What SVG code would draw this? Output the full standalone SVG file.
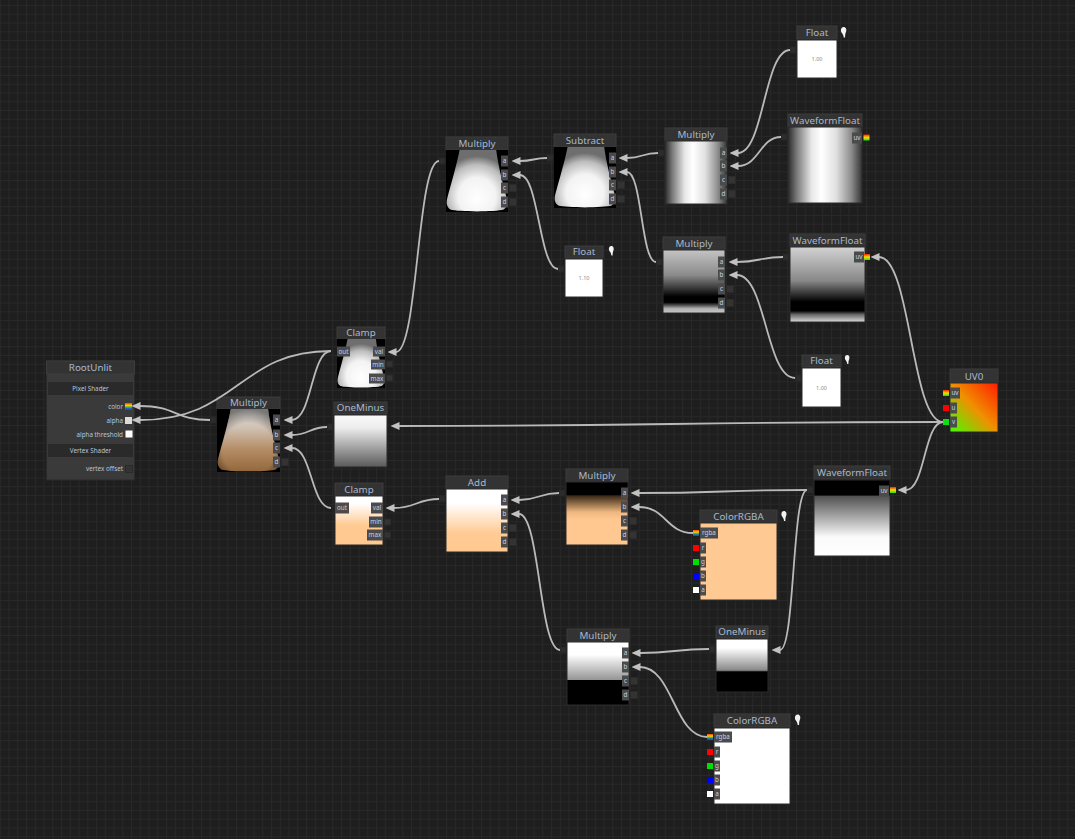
<svg xmlns="http://www.w3.org/2000/svg" xmlns:xlink="http://www.w3.org/1999/xlink" width="1075" height="839" viewBox="0 0 1075 839">
<defs>
<style>
.hdr{fill:#333333;stroke:#3d3d3d;stroke-width:1}
.ttl{font-family:"Noto Sans","Liberation Sans",sans-serif;font-size:9.8px;fill:#a9b8cd;text-anchor:middle}
.pl{fill:#4b4b4b}
.pt{font-family:"Noto Sans","Liberation Sans",sans-serif;font-size:6.3px;fill:#c4d0e4;text-anchor:middle}
.ps{fill:#333333;stroke:#2a2a2a;stroke-width:1}
.op{fill:#2c2c2c;stroke:#262626;stroke-width:1}
.val{font-family:"Noto Sans","Liberation Sans",sans-serif;font-size:5.5px;fill:#8a8a8a;text-anchor:middle}
.rl{font-family:"Noto Sans","Liberation Sans",sans-serif;font-size:6.3px;fill:#b8c4da;text-anchor:end}
.bt{font-family:"Noto Sans","Liberation Sans",sans-serif;font-size:6.3px;fill:#b8c4da;text-anchor:middle}
.band{fill:#2a2a2a}
.pin{fill:#f2f2f2}
#connectors path{fill:none;stroke:#b9b9b9;stroke-width:1.8;marker-end:url(#arr)}
</style>
<pattern id="grid" width="8.75" height="8.75" patternUnits="userSpaceOnUse" x="8.5" y="5">
<rect width="8.75" height="8.75" fill="#1e1e1e"/>
<path d="M0,0.5 H8.75 M0.5,0 V8.75" stroke="#282828" stroke-width="1"/>
</pattern>
<marker id="arr" viewBox="0 0 9 8" refX="0.5" refY="4" markerWidth="9" markerHeight="8" markerUnits="userSpaceOnUse" orient="auto">
<path d="M0,0 L9,4 L0,8 Z" fill="#c2c2c2"/>
</marker>
<path id="vase" d="M22,0 L81,0 C84,25 92,55 98,78 C100,86 99,92 93,96 C80,100 20,100 7,96 C1,92 0,86 2,78 C8,55 17,25 22,0 Z"/>
<path id="pinshape" d="M3,0 C5.6,0 6.2,2.6 5.6,4.6 C5,6.2 4.6,7.4 4.6,10.5 L3.2,10.5 C3,8.4 2.2,7 1.2,5.8 C-0.2,4 0.4,0 3,0 Z"/>
<radialGradient id="gVase" cx="0.5" cy="0.72" r="0.62" fx="0.5" fy="0.8">
<stop offset="0" stop-color="#ffffff"/><stop offset="0.5" stop-color="#f3f3f3"/><stop offset="0.8" stop-color="#bcbcbc"/><stop offset="1" stop-color="#6e6e6e"/>
</radialGradient>
<linearGradient id="gTan" x1="0" y1="0" x2="0" y2="1">
<stop offset="0" stop-color="#dcdcdc"/><stop offset="0.3" stop-color="#d0c2b4"/><stop offset="0.65" stop-color="#b48c64"/><stop offset="1" stop-color="#93683d"/>
</linearGradient>
<radialGradient id="gEdge" cx="0.5" cy="0.65" r="0.65">
<stop offset="0" stop-color="#000" stop-opacity="0"/><stop offset="0.65" stop-color="#000" stop-opacity="0"/><stop offset="1" stop-color="#000" stop-opacity="0.45"/>
</radialGradient>
<linearGradient id="gOneT" x1="0" y1="0" x2="0" y2="1">
<stop offset="0" stop-color="#fafafa"/><stop offset="0.25" stop-color="#ececec"/><stop offset="1" stop-color="#5a5a5a"/>
</linearGradient>
<linearGradient id="gHoriz" x1="0" y1="0" x2="1" y2="0">
<stop offset="0" stop-color="#2a2a2a"/><stop offset="0.12" stop-color="#7a7a7a"/><stop offset="0.32" stop-color="#e8e8e8"/><stop offset="0.45" stop-color="#ffffff"/><stop offset="0.65" stop-color="#e0e0e0"/><stop offset="0.86" stop-color="#8a8a8a"/><stop offset="1" stop-color="#333333"/>
</linearGradient>
<linearGradient id="gMulM" x1="0" y1="0" x2="0" y2="1">
<stop offset="0" stop-color="#c4c4c4"/><stop offset="0.4" stop-color="#8a8a8a"/><stop offset="0.64" stop-color="#2a2a2a"/><stop offset="0.74" stop-color="#000"/><stop offset="0.83" stop-color="#000"/><stop offset="0.88" stop-color="#555"/><stop offset="0.93" stop-color="#b0b0b0"/><stop offset="1" stop-color="#c8c8c8"/>
</linearGradient>
<linearGradient id="gWfM" x1="0" y1="0" x2="0" y2="1">
<stop offset="0" stop-color="#d2d2d2"/><stop offset="0.45" stop-color="#888"/><stop offset="0.66" stop-color="#222"/><stop offset="0.73" stop-color="#000"/><stop offset="0.85" stop-color="#000"/><stop offset="0.9" stop-color="#666"/><stop offset="1" stop-color="#dcdcdc"/>
</linearGradient>
<linearGradient id="gUV" x1="1" y1="0" x2="0" y2="1">
<stop offset="0" stop-color="#ff1c00"/><stop offset="0.5" stop-color="#f09000"/><stop offset="1" stop-color="#40ff00"/>
</linearGradient>
<linearGradient id="gAdd" x1="0" y1="0" x2="0" y2="1">
<stop offset="0" stop-color="#fff"/><stop offset="0.22" stop-color="#fff"/><stop offset="0.7" stop-color="#ffcb94"/><stop offset="1" stop-color="#ffc891"/>
</linearGradient>
<linearGradient id="gClampB" x1="0" y1="0" x2="0" y2="1">
<stop offset="0" stop-color="#fff"/><stop offset="0.15" stop-color="#fff"/><stop offset="0.6" stop-color="#ffca92"/><stop offset="1" stop-color="#ffc891"/>
</linearGradient>
<linearGradient id="gMulB" x1="0" y1="0" x2="0" y2="1">
<stop offset="0" stop-color="#000"/><stop offset="0.2" stop-color="#000"/><stop offset="0.22" stop-color="#3a2a18"/><stop offset="0.48" stop-color="#f0b880"/><stop offset="0.6" stop-color="#ffc891"/><stop offset="1" stop-color="#ffc891"/>
</linearGradient>
<linearGradient id="gWfB" x1="0" y1="0" x2="0" y2="1">
<stop offset="0" stop-color="#000"/><stop offset="0.2" stop-color="#000"/><stop offset="0.21" stop-color="#505050"/><stop offset="0.75" stop-color="#fafafa"/><stop offset="1" stop-color="#fff"/>
</linearGradient>
<linearGradient id="gMulBB" x1="0" y1="0" x2="0" y2="1">
<stop offset="0" stop-color="#fff"/><stop offset="0.2" stop-color="#fff"/><stop offset="0.6" stop-color="#959595"/><stop offset="0.61" stop-color="#000"/><stop offset="1" stop-color="#000"/>
</linearGradient>
<linearGradient id="gOneB" x1="0" y1="0" x2="0" y2="1">
<stop offset="0" stop-color="#fff"/><stop offset="0.17" stop-color="#fff"/><stop offset="0.59" stop-color="#888"/><stop offset="0.62" stop-color="#000"/><stop offset="1" stop-color="#000"/>
</linearGradient>
<linearGradient id="gRgba" x1="0" y1="0" x2="0" y2="1">
<stop offset="0" stop-color="#ff4000"/><stop offset="0.35" stop-color="#ffd000"/><stop offset="0.6" stop-color="#30c030"/><stop offset="0.85" stop-color="#2040ff"/><stop offset="1" stop-color="#8020c0"/>
</linearGradient>
<linearGradient id="gUvSw" x1="0" y1="0" x2="0" y2="1">
<stop offset="0" stop-color="#ff2000"/><stop offset="0.5" stop-color="#ffdd00"/><stop offset="1" stop-color="#20e020"/>
</linearGradient>
</defs>

<rect width="1075" height="839" fill="url(#grid)"/>

<g id="root-unlit">
<rect x="46.5" y="361" width="88" height="119" fill="#3a3a3a" stroke="#2a2a2a"/>
<rect class="hdr" x="46.5" y="361" width="88" height="13"/>
<text class="ttl" x="90.5" y="371">RootUnlit</text>
<rect class="band" x="48" y="382" width="85" height="13"/>
<text class="bt" x="90.5" y="391">Pixel Shader</text>
<text class="rl" x="123" y="409">color</text>
<text class="rl" x="123" y="423">alpha</text>
<text class="rl" x="123" y="436.5">alpha threshold</text>
<rect class="band" x="48" y="444" width="85" height="13"/>
<text class="bt" x="90.5" y="453">Vertex Shader</text>
<text class="rl" x="123" y="471">vertex offset</text>
<rect x="125" y="403" width="7" height="7" fill="url(#gRgba)"/>
<rect x="125" y="417" width="7" height="7" fill="#dcdcdc"/>
<rect x="125.5" y="430.5" width="7" height="7" fill="#ffffff"/>
<rect class="ps" x="125.5" y="465.5" width="7" height="7"/>
</g>

<g id="multiply-left">
<rect class="hdr" x="217" y="397" width="63" height="12"/>
<text class="ttl" x="248.5" y="406">Multiply</text>
<rect x="217" y="409" width="63" height="63" fill="#000"/>
<use xlink:href="#vase" href="#vase" transform="translate(217,409) scale(0.63,0.63)" fill="url(#gTan)"/>
<use xlink:href="#vase" href="#vase" transform="translate(217,409) scale(0.63,0.63)" fill="url(#gEdge)"/>
<rect class="pl" x="273" y="414.5" width="7" height="11"/><text class="pt" x="276.5" y="422.3">a</text>
<rect class="pl" x="273" y="429.5" width="7" height="11"/><text class="pt" x="276.5" y="437.3">b</text>
<rect class="pl" x="273" y="442.5" width="7" height="11"/><text class="pt" x="276.5" y="450.3">c</text>
<rect class="pl" x="273" y="456.5" width="7" height="11"/><text class="pt" x="276.5" y="464.3">d</text>
<rect class="ps" x="281.5" y="458.5" width="7" height="7"/>
<rect class="op" x="210" y="417" width="6" height="6"/>
</g>

<g id="clamp-top">
<rect class="hdr" x="337" y="327" width="48" height="12"/>
<text class="ttl" x="361" y="336">Clamp</text>
<rect x="337" y="339" width="48" height="49" fill="#000"/>
<use xlink:href="#vase" href="#vase" transform="translate(337,339) scale(0.48,0.49)" fill="url(#gVase)"/>
<rect class="pl" x="337" y="346.5" width="13" height="10"/><text class="pt" x="343.5" y="353.5">out</text>
<rect class="pl" x="373" y="346.5" width="12" height="10"/><text class="pt" x="379" y="353.5">val</text>
<rect class="pl" x="371" y="359.5" width="14" height="10"/><text class="pt" x="378" y="366.5">min</text>
<rect class="pl" x="369" y="373.5" width="16" height="10"/><text class="pt" x="377" y="380.5">max</text>
<rect class="ps" x="386.5" y="361" width="6" height="6"/>
<rect class="ps" x="386.5" y="375" width="6" height="6"/>
</g>

<g id="oneminus-top">
<rect class="hdr" x="334" y="402" width="53" height="12"/>
<text class="ttl" x="360.5" y="411">OneMinus</text>
<rect x="334" y="415" width="53" height="52" fill="url(#gOneT)" stroke="#2a2a2a"/>
<rect class="op" x="327" y="424" width="6" height="6"/>
</g>

<g id="multiply-top">
<rect class="hdr" x="446" y="137" width="62" height="13"/>
<text class="ttl" x="477" y="146.5">Multiply</text>
<rect x="446" y="150" width="62" height="62" fill="#000"/>
<use xlink:href="#vase" href="#vase" transform="translate(446,150) scale(0.62,0.62)" fill="url(#gVase)"/>
<rect class="pl" x="501" y="155.5" width="7" height="11"/><text class="pt" x="504.5" y="163.3">a</text>
<rect class="pl" x="501" y="169.5" width="7" height="11"/><text class="pt" x="504.5" y="177.3">b</text>
<rect class="pl" x="501" y="182.5" width="7" height="11"/><text class="pt" x="504.5" y="190.3">c</text>
<rect class="pl" x="501" y="196.5" width="7" height="11"/><text class="pt" x="504.5" y="204.3">d</text>
<rect class="ps" x="509.5" y="184.5" width="7" height="7"/>
<rect class="ps" x="509.5" y="198.5" width="7" height="7"/>
<rect class="op" x="439" y="158" width="6" height="6"/>
</g>

<g id="subtract">
<rect class="hdr" x="554" y="134" width="62" height="13"/>
<text class="ttl" x="585" y="143.5">Subtract</text>
<rect x="554" y="147" width="62" height="61" fill="#000"/>
<use xlink:href="#vase" href="#vase" transform="translate(554,147) scale(0.62,0.61)" fill="url(#gVase)"/>
<rect class="pl" x="609" y="152.5" width="7" height="11"/><text class="pt" x="612.5" y="160.3">a</text>
<rect class="pl" x="609" y="166.5" width="7" height="11"/><text class="pt" x="612.5" y="174.3">b</text>
<rect class="pl" x="609" y="179.5" width="7" height="11"/><text class="pt" x="612.5" y="187.3">c</text>
<rect class="pl" x="609" y="193.5" width="7" height="11"/><text class="pt" x="612.5" y="201.3">d</text>
<rect class="ps" x="617.5" y="181.5" width="7" height="7"/>
<rect class="ps" x="617.5" y="195.5" width="7" height="7"/>
<rect class="op" x="547" y="155" width="6" height="6"/>
</g>

<g id="float-mid">
<rect class="hdr" x="565" y="246" width="38" height="12"/>
<text class="ttl" x="584" y="255">Float</text>
<rect x="565" y="259" width="38" height="38" fill="#fff" stroke="#2a2a2a"/>
<text class="val" x="584" y="280">1.10</text>
<rect class="op" x="558" y="266" width="6" height="6"/>
<use xlink:href="#pinshape" href="#pinshape" class="pin" transform="translate(608.5,246) scale(0.9)"/>
</g>

<g id="multiply-topright">
<rect class="hdr" x="665" y="128" width="62" height="13"/>
<text class="ttl" x="696" y="137.5">Multiply</text>
<rect x="665" y="141" width="62" height="63" fill="url(#gHoriz)" stroke="#2a2a2a"/>
<rect class="pl" x="720" y="147.5" width="7" height="11"/><text class="pt" x="723.5" y="155.3">a</text>
<rect class="pl" x="720" y="160.5" width="7" height="11"/><text class="pt" x="723.5" y="168.3">b</text>
<rect class="pl" x="720" y="174.5" width="7" height="11"/><text class="pt" x="723.5" y="182.3">c</text>
<rect class="pl" x="720" y="188.5" width="7" height="11"/><text class="pt" x="723.5" y="196.3">d</text>
<rect class="ps" x="728.5" y="176.5" width="7" height="7"/>
<rect class="ps" x="728.5" y="190.5" width="7" height="7"/>
<rect class="op" x="658" y="150" width="6" height="6"/>
</g>

<g id="float-top">
<rect class="hdr" x="797" y="26" width="40" height="13"/>
<text class="ttl" x="817" y="35.5">Float</text>
<rect x="797" y="40" width="40" height="38" fill="#fff" stroke="#2a2a2a"/>
<text class="val" x="817" y="61">1.00</text>
<rect class="op" x="790" y="47" width="6" height="6"/>
<use xlink:href="#pinshape" href="#pinshape" class="pin" transform="translate(840.5,27)"/>
</g>

<g id="waveform-top">
<rect class="hdr" x="788" y="114" width="74" height="13"/>
<text class="ttl" x="825" y="123.5">WaveformFloat</text>
<rect x="788" y="127" width="74" height="76" fill="url(#gHoriz)" stroke="#2a2a2a"/>
<rect class="pl" x="852" y="132.5" width="10" height="11"/><text class="pt" x="857" y="140.3">uv</text>
<rect x="863.5" y="134.5" width="6" height="6" fill="url(#gUvSw)"/>
<rect class="op" x="781" y="134" width="6" height="6"/>
</g>

<g id="multiply-mid">
<rect class="hdr" x="663" y="237" width="62" height="13"/>
<text class="ttl" x="694" y="246.5">Multiply</text>
<rect x="663" y="250" width="62" height="63" fill="url(#gMulM)" stroke="#2a2a2a"/>
<rect class="pl" x="718" y="256.5" width="7" height="11"/><text class="pt" x="721.5" y="264.3">a</text>
<rect class="pl" x="718" y="269.5" width="7" height="11"/><text class="pt" x="721.5" y="277.3">b</text>
<rect class="pl" x="718" y="283.5" width="7" height="11"/><text class="pt" x="721.5" y="291.3">c</text>
<rect class="pl" x="718" y="297.5" width="7" height="11"/><text class="pt" x="721.5" y="305.3">d</text>
<rect class="ps" x="726.5" y="285.5" width="7" height="7"/>
<rect class="ps" x="726.5" y="299.5" width="7" height="7"/>
<rect class="op" x="656" y="259" width="6" height="6"/>
</g>

<g id="waveform-mid">
<rect class="hdr" x="790" y="234" width="75" height="13"/>
<text class="ttl" x="827.5" y="243.5">WaveformFloat</text>
<rect x="790" y="247" width="75" height="75" fill="url(#gWfM)" stroke="#2a2a2a"/>
<rect class="pl" x="854" y="251.5" width="10" height="11"/><text class="pt" x="859" y="259.3">uv</text>
<rect x="864" y="254" width="6" height="6" fill="url(#gUvSw)"/>
<rect class="op" x="783" y="254" width="6" height="6"/>
</g>

<g id="float-low">
<rect class="hdr" x="802" y="355" width="39" height="12"/>
<text class="ttl" x="821.5" y="364">Float</text>
<rect x="802" y="368" width="39" height="39" fill="#fff" stroke="#2a2a2a"/>
<text class="val" x="821.5" y="390">1.00</text>
<rect class="op" x="795" y="375" width="6" height="6"/>
<use xlink:href="#pinshape" href="#pinshape" class="pin" transform="translate(844.5,355) scale(0.85)"/>
</g>

<g id="uv0">
<rect class="hdr" x="950" y="369" width="48" height="14"/>
<text class="ttl" x="974" y="379.5">UV0</text>
<rect x="950" y="383" width="48" height="49" fill="url(#gUV)" stroke="#2a2a2a"/>
<rect class="pl" x="950" y="387.5" width="10" height="11"/><text class="pt" x="955" y="395.3">uv</text>
<rect class="pl" x="950" y="402.5" width="7" height="11"/><text class="pt" x="953.5" y="410.3">u</text>
<rect class="pl" x="950" y="416.5" width="7" height="11"/><text class="pt" x="953.5" y="424.3">v</text>
<rect x="943" y="390" width="6" height="6" fill="url(#gUvSw)"/>
<rect x="943" y="405" width="6" height="6" fill="#ff0000"/>
<rect x="943" y="419" width="6" height="6" fill="#10e010"/>
</g>

<g id="clamp-bottom">
<rect class="hdr" x="335" y="483" width="48" height="13"/>
<text class="ttl" x="359" y="492.5">Clamp</text>
<rect x="335" y="496" width="48" height="49" fill="url(#gClampB)" stroke="#2a2a2a"/>
<rect class="pl" x="335" y="502.5" width="14" height="11"/><text class="pt" x="342" y="510.3">out</text>
<rect class="pl" x="371" y="502.5" width="12" height="11"/><text class="pt" x="377" y="510.3">val</text>
<rect class="pl" x="369" y="516.5" width="14" height="11"/><text class="pt" x="376" y="524.3">min</text>
<rect class="pl" x="367" y="529.5" width="16" height="11"/><text class="pt" x="375" y="537.3">max</text>
<rect class="ps" x="384.5" y="519" width="6" height="6"/>
<rect class="ps" x="384.5" y="532" width="6" height="6"/>
</g>

<g id="add">
<rect class="hdr" x="446" y="476" width="62" height="13"/>
<text class="ttl" x="477" y="485.5">Add</text>
<rect x="446" y="489" width="62" height="63" fill="url(#gAdd)" stroke="#2a2a2a"/>
<rect class="pl" x="501" y="494.5" width="7" height="11"/><text class="pt" x="504.5" y="502.3">a</text>
<rect class="pl" x="501" y="508.5" width="7" height="11"/><text class="pt" x="504.5" y="516.3">b</text>
<rect class="pl" x="501" y="522.5" width="7" height="11"/><text class="pt" x="504.5" y="530.3">c</text>
<rect class="pl" x="501" y="536.5" width="7" height="11"/><text class="pt" x="504.5" y="544.3">d</text>
<rect class="ps" x="509.5" y="524.5" width="7" height="7"/>
<rect class="ps" x="509.5" y="538.5" width="7" height="7"/>
<rect class="op" x="439" y="496" width="6" height="6"/>
</g>

<g id="multiply-bottom">
<rect class="hdr" x="566" y="469" width="62" height="13"/>
<text class="ttl" x="597" y="478.5">Multiply</text>
<rect x="566" y="482" width="62" height="63" fill="url(#gMulB)" stroke="#2a2a2a"/>
<rect class="pl" x="621" y="487.5" width="7" height="11"/><text class="pt" x="624.5" y="495.3">a</text>
<rect class="pl" x="621" y="501.5" width="7" height="11"/><text class="pt" x="624.5" y="509.3">b</text>
<rect class="pl" x="621" y="515.5" width="7" height="11"/><text class="pt" x="624.5" y="523.3">c</text>
<rect class="pl" x="621" y="529.5" width="7" height="11"/><text class="pt" x="624.5" y="537.3">d</text>
<rect class="ps" x="629.5" y="517.5" width="7" height="7"/>
<rect class="ps" x="629.5" y="531.5" width="7" height="7"/>
<rect class="op" x="559" y="490" width="6" height="6"/>
</g>

<g id="colorrgba-mid">
<rect class="hdr" x="700" y="510" width="77" height="13"/>
<text class="ttl" x="738.5" y="519.5">ColorRGBA</text>
<rect x="700" y="523" width="77" height="77" fill="#ffc993" stroke="#2a2a2a"/>
<rect class="pl" x="700" y="527.5" width="18" height="11"/><text class="pt" x="709" y="535.3">rgba</text>
<rect class="pl" x="700" y="542.5" width="6" height="11"/><text class="pt" x="703" y="550.3">r</text>
<rect class="pl" x="700" y="556.5" width="6" height="11"/><text class="pt" x="703" y="564.3">g</text>
<rect class="pl" x="700" y="570.5" width="6" height="11"/><text class="pt" x="703" y="578.3">b</text>
<rect class="pl" x="700" y="584.5" width="6" height="11"/><text class="pt" x="703" y="592.3">a</text>
<rect x="693" y="530" width="6" height="6" fill="url(#gRgba)"/>
<rect x="693" y="545" width="6" height="6" fill="#ff0000"/>
<rect x="693" y="559" width="6" height="6" fill="#00e000"/>
<rect x="693" y="573" width="6" height="6" fill="#0000ff"/>
<rect x="693" y="587" width="6" height="6" fill="#ffffff"/>
<use xlink:href="#pinshape" href="#pinshape" class="pin" transform="translate(781,511) scale(0.95)"/>
</g>

<g id="waveform-bottom">
<rect class="hdr" x="814" y="466" width="76" height="13"/>
<text class="ttl" x="852" y="475.5">WaveformFloat</text>
<rect x="814" y="480" width="76" height="76" fill="url(#gWfB)" stroke="#2a2a2a"/>
<rect class="pl" x="879" y="485.5" width="10" height="11"/><text class="pt" x="884" y="493.3">uv</text>
<rect x="890" y="487" width="6" height="6" fill="url(#gUvSw)"/>
<rect class="op" x="807" y="487" width="6" height="6"/>
</g>

<g id="multiply-bottom2">
<rect class="hdr" x="567" y="629" width="62" height="13"/>
<text class="ttl" x="598" y="638.5">Multiply</text>
<rect x="567" y="642" width="62" height="63" fill="url(#gMulBB)" stroke="#2a2a2a"/>
<rect class="pl" x="622" y="647.5" width="7" height="11"/><text class="pt" x="625.5" y="655.3">a</text>
<rect class="pl" x="622" y="661.5" width="7" height="11"/><text class="pt" x="625.5" y="669.3">b</text>
<rect class="pl" x="622" y="675.5" width="7" height="11"/><text class="pt" x="625.5" y="683.3">c</text>
<rect class="pl" x="622" y="689.5" width="7" height="11"/><text class="pt" x="625.5" y="697.3">d</text>
<rect class="ps" x="630.5" y="677.5" width="7" height="7"/>
<rect class="ps" x="630.5" y="691.5" width="7" height="7"/>
<rect class="op" x="560" y="647" width="6" height="6"/>
</g>

<g id="oneminus-bottom">
<rect class="hdr" x="716" y="626" width="52" height="12"/>
<text class="ttl" x="742" y="635">OneMinus</text>
<rect x="716" y="639" width="52" height="53" fill="url(#gOneB)" stroke="#2a2a2a"/>
<rect class="op" x="709" y="646" width="6" height="6"/>
</g>

<g id="colorrgba-bottom">
<rect class="hdr" x="714" y="714" width="76" height="13"/>
<text class="ttl" x="752" y="723.5">ColorRGBA</text>
<rect x="714" y="728" width="76" height="76" fill="#ffffff" stroke="#2a2a2a"/>
<rect class="pl" x="714" y="731.5" width="18" height="11"/><text class="pt" x="723" y="739.3">rgba</text>
<rect class="pl" x="714" y="746.5" width="6" height="11"/><text class="pt" x="717" y="754.3">r</text>
<rect class="pl" x="714" y="760.5" width="6" height="11"/><text class="pt" x="717" y="768.3">g</text>
<rect class="pl" x="714" y="774.5" width="6" height="11"/><text class="pt" x="717" y="782.3">b</text>
<rect class="pl" x="714" y="788.5" width="6" height="11"/><text class="pt" x="717" y="796.3">a</text>
<rect x="707" y="734" width="6" height="6" fill="url(#gRgba)"/>
<rect x="707" y="749" width="6" height="6" fill="#ff0000"/>
<rect x="707" y="763" width="6" height="6" fill="#00e000"/>
<rect x="707" y="777" width="6" height="6" fill="#0000ff"/>
<rect x="707" y="791" width="6" height="6" fill="#ffffff"/>
<use xlink:href="#pinshape" href="#pinshape" class="pin" transform="translate(794.5,714.5)"/>
</g>

<g id="connectors">
<path d="M331,351 C238,351 238,420 140,420"/>
<path d="M210,420 C175,420 176,406 140,406"/>
<path d="M331,351 C311,351 312,420 292,420"/>
<path d="M327,427 C310,427 309,435 292,435"/>
<path d="M331,508 C311,508 312,448 292,448"/>
<path d="M439,161 C417,161 418,352 396,352"/>
<path d="M547,158 C533,158 534,161 520,161"/>
<path d="M558,269 C539,269 539,175 520,175"/>
<path d="M658,153 C642,153 643,158 627,158"/>
<path d="M656,262 C641,262 642,172 627,172"/>
<path d="M790,50 C764,50 764,153 738,153"/>
<path d="M781,137 C760,137 759,166 738,166"/>
<path d="M783,257 C760,257 760,262 737,262"/>
<path d="M795,378 C766,378 766,275 737,275"/>
<path d="M943,422 C911,422 911,257 879,257"/>
<path d="M943,422 C671,422 671,426 399,426"/>
<path d="M943,422 C924,422 925,490 906,490"/>
<path d="M439,499 C417,499 416,508 394,508"/>
<path d="M559,493 C539,493 539,500 519,500"/>
<path d="M560,650 C539,650 540,514 519,514"/>
<path d="M807,490 C723,490 723,493 639,493"/>
<path d="M693,533 C666,533 666,507 639,507"/>
<path d="M807,490 C792,490 795,650 780,650"/>
<path d="M709,649 C675,649 674,653 640,653"/>
<path d="M707,737 C674,737 673,667 640,667"/>
</g>
</svg>
